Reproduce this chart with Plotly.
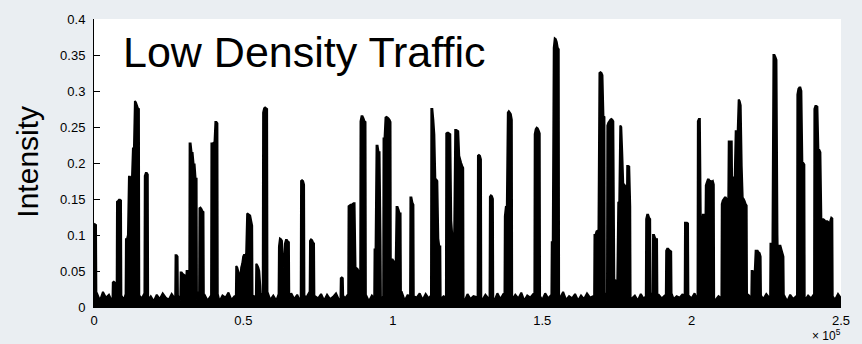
import plotly.graph_objects as go

# ---------------- data ----------------
baseline_step = 1000  # samples between baseline readings
baseline = [
    0.012, 0.019, 0.009, 0.021, 0.013, 0.017, 0.008, 0.020, 0.012, 0.016, 0.010, 0.018, 0.011, 0.022, 0.009, 0.016, 0.012, 0.019, 0.010, 0.015,
    0.008, 0.017, 0.011, 0.019, 0.013, 0.010, 0.018, 0.012, 0.016, 0.009, 0.019, 0.011, 0.016, 0.013, 0.010, 0.020, 0.012, 0.017, 0.009, 0.015,
    0.011, 0.018, 0.008, 0.016, 0.013, 0.020, 0.010, 0.015, 0.012, 0.019, 0.009, 0.017, 0.011, 0.016, 0.014, 0.010, 0.018, 0.012, 0.021, 0.010,
    0.016, 0.009, 0.018, 0.012, 0.015, 0.010, 0.019, 0.011, 0.017, 0.008, 0.016, 0.013, 0.020, 0.010, 0.015, 0.012, 0.018, 0.009, 0.017, 0.011,
    0.014, 0.019, 0.010, 0.016, 0.012, 0.018, 0.009, 0.015, 0.013, 0.020, 0.011, 0.017, 0.008, 0.016, 0.012, 0.019, 0.010, 0.015, 0.013, 0.018,
    0.010, 0.016, 0.012, 0.021, 0.009, 0.017, 0.011, 0.015, 0.013, 0.019, 0.010, 0.018, 0.012, 0.016, 0.009, 0.020, 0.011, 0.015, 0.013, 0.017,
    0.010, 0.019, 0.012, 0.016, 0.008, 0.018, 0.011, 0.015, 0.014, 0.020, 0.010, 0.017, 0.012, 0.016, 0.009, 0.019, 0.011, 0.018, 0.013, 0.015,
    0.010, 0.017, 0.012, 0.020, 0.009, 0.016, 0.013, 0.018, 0.011, 0.015, 0.010, 0.019, 0.012, 0.017, 0.008, 0.016, 0.013, 0.021, 0.010, 0.015,
    0.012, 0.018, 0.009, 0.016, 0.011, 0.019, 0.013, 0.015, 0.010, 0.017, 0.012, 0.020, 0.009, 0.016, 0.011, 0.018, 0.013, 0.015, 0.010, 0.019,
    0.012, 0.016, 0.009, 0.018, 0.011, 0.015, 0.013, 0.020, 0.010, 0.017, 0.012, 0.016, 0.008, 0.019, 0.011, 0.015, 0.013, 0.018, 0.010, 0.016,
    0.012, 0.019, 0.009, 0.017, 0.011, 0.016, 0.013, 0.021, 0.010, 0.015, 0.012, 0.018, 0.009, 0.016, 0.011, 0.019, 0.013, 0.015, 0.010, 0.017,
    0.012, 0.020, 0.009, 0.016, 0.011, 0.018, 0.013, 0.015, 0.010, 0.019, 0.012, 0.016, 0.008, 0.017, 0.011, 0.015, 0.013, 0.020, 0.010, 0.016,
    0.012, 0.018, 0.009, 0.017, 0.011, 0.019, 0.013, 0.015, 0.010, 0.018, 0.012,
]

burst_step = 333  # samples between readings inside a burst
burst_start = [
    0, 6300, 7700, 10700, 17000, 27300, 29000, 32000, 35300, 39300,
    47600, 54300, 56600, 61900, 69300, 72300, 82600, 85200, 89200, 93900,
    96900, 99600, 105900, 112900, 117900, 128500, 132500, 137500, 147500, 153200,
    167500, 171800, 184800, 187100, 191500, 197800, 202100, 210100, 220100, 226400,
    235400, 241100,
]
burst_heights = [
    [0.116, 0.115, 0.114],
    [0.034, 0.035, 0.034, 0.033],
    [0.146, 0.147, 0.149, 0.149, 0.148],
    [0.094, 0.094, 0.100, 0.181, 0.181, 0.178, 0.178, 0.220, 0.220, 0.286, 0.284, 0.280, 0.276, 0.275],
    [0.182, 0.186, 0.186, 0.184],
    [0.072, 0.072, 0.070],
    [0.048, 0.048, 0.046, 0.045, 0.044, 0.020, 0.050, 0.050, 0.050],
    [0.227, 0.227, 0.214, 0.214, 0.198, 0.198, 0.178, 0.178],
    [0.137, 0.138, 0.136, 0.133, 0.132],
    [0.227, 0.227, 0.228, 0.226, 0.257, 0.257, 0.255],
    [0.057, 0.055, 0.050, 0.045, 0.040, 0.055, 0.060, 0.070, 0.073, 0.070, 0.075, 0.130, 0.129, 0.128, 0.127, 0.120, 0.113],
    [0.060, 0.058, 0.055, 0.050, 0.030],
    [0.270, 0.276, 0.277, 0.276, 0.275],
    [0.084, 0.095, 0.094, 0.092, 0.060, 0.055, 0.088, 0.093, 0.093, 0.091, 0.090],
    [0.175, 0.176, 0.175, 0.170],
    [0.092, 0.094, 0.093, 0.090, 0.088],
    [0.040, 0.041, 0.040],
    [0.140, 0.141, 0.142, 0.142, 0.143, 0.144, 0.144, 0.052, 0.054, 0.053, 0.050],
    [0.258, 0.265, 0.265, 0.262, 0.258, 0.257],
    [0.080, 0.080, 0.224, 0.224, 0.215, 0.215, 0.090],
    [0.234, 0.234, 0.263, 0.264, 0.263, 0.262, 0.260, 0.257],
    [0.066, 0.066, 0.064, 0.060, 0.050, 0.139, 0.139, 0.135, 0.130, 0.130],
    [0.152, 0.152, 0.145, 0.142],
    [0.275, 0.275, 0.260, 0.240, 0.177, 0.177, 0.175, 0.095, 0.084, 0.084],
    [0.241, 0.242, 0.242, 0.241, 0.240, 0.120, 0.100, 0.060, 0.110, 0.246, 0.246, 0.245, 0.244, 0.210, 0.205, 0.200, 0.196, 0.193],
    [0.210, 0.211, 0.210, 0.205],
    [0.153, 0.155, 0.154, 0.150],
    [0.126, 0.139, 0.140, 0.270, 0.272, 0.270, 0.268, 0.260],
    [0.240, 0.247, 0.249, 0.248, 0.245, 0.241],
    [0.090, 0.090, 0.360, 0.373, 0.372, 0.368, 0.360, 0.358],
    [0.100, 0.100, 0.105, 0.106, 0.106, 0.325, 0.326, 0.325, 0.322, 0.265, 0.264],
    [0.252, 0.256, 0.258, 0.260, 0.261, 0.260, 0.258, 0.037, 0.037, 0.036, 0.035, 0.145, 0.146, 0.252, 0.250, 0.213, 0.170, 0.170, 0.168, 0.050, 0.196, 0.196, 0.195, 0.140],
    [0.122, 0.128, 0.128, 0.124, 0.122],
    [0.100, 0.100, 0.096, 0.094, 0.094],
    [0.078, 0.081, 0.081, 0.079, 0.078, 0.077],
    [0.117, 0.117, 0.117, 0.116],
    [0.258, 0.261, 0.261, 0.107, 0.107, 0.128, 0.128, 0.030, 0.169, 0.173, 0.177, 0.177, 0.175, 0.175, 0.174, 0.175, 0.170],
    [0.143, 0.148, 0.150, 0.152, 0.152, 0.150, 0.050, 0.230, 0.230, 0.230, 0.230, 0.080, 0.180, 0.180, 0.244, 0.244, 0.244, 0.288, 0.286, 0.280, 0.196, 0.152, 0.150, 0.147, 0.143, 0.141],
    [0.050, 0.050, 0.046, 0.046, 0.078, 0.078, 0.078, 0.076, 0.075, 0.070],
    [0.088, 0.088, 0.088, 0.350, 0.350, 0.347, 0.343, 0.100, 0.020, 0.085, 0.085, 0.080, 0.075, 0.070],
    [0.295, 0.303, 0.305, 0.305, 0.300, 0.200, 0.200, 0.198],
    [0.275, 0.279, 0.279, 0.278, 0.218, 0.218, 0.215, 0.120, 0.122, 0.122, 0.121, 0.119, 0.119, 0.119, 0.118, 0.030, 0.120, 0.124, 0.123],
]

x_tick_vals = [0, 50000, 100000, 150000, 200000, 250000]
x_tick_text = ["0", "0.5", "1", "1.5", "2", "2.5"]
y_tick_vals = [0, 0.05, 0.1, 0.15, 0.2, 0.25, 0.3, 0.35, 0.4]
y_tick_text = ["0", "0.05", "0.1", "0.15", "0.2", "0.25", "0.3", "0.35", "0.4"]

# ---------------- assemble the series ----------------
points = {i * baseline_step: v for i, v in enumerate(baseline)}


def base_at(x):
    i = int(round(x / baseline_step))
    return baseline[max(0, min(len(baseline) - 1, i))]


for s0, hs in zip(burst_start, burst_heights):
    s1 = s0 + (len(hs) - 1) * burst_step
    for key in [k for k in points if s0 - 200 <= k <= s1 + 200]:
        del points[key]
    if s0 > 0:
        points[s0 - 120] = base_at(s0 - 120)
    points[s1 + 120] = base_at(s1 + 120)
    for k, h in enumerate(hs):
        points[s0 + k * burst_step] = h

xs = sorted(points)
ys = [points[x] for x in xs]

# ---------------- figure ----------------
fig = go.Figure(
    go.Scatter(
        x=xs, y=ys, mode="lines",
        line=dict(color="black", width=2, simplify=False),
        fill="tozeroy", fillcolor="black",
        hoverinfo="skip",
    )
)

FONT = "Liberation Sans, Arial, Helvetica, sans-serif"

fig.update_layout(
    width=862, height=344,
    margin=dict(l=94, r=17, t=13, b=37),
    paper_bgcolor="#eaeef2",
    plot_bgcolor="white",
    showlegend=False,
    font=dict(family=FONT, size=13, color="black"),
)
fig.update_xaxes(
    range=[0, 250000], tickvals=x_tick_vals, ticktext=x_tick_text,
    showline=True, linecolor="black", linewidth=1,
    ticks="inside", ticklen=5, tickcolor="black",
    showgrid=False, zeroline=False, ticklabelstandoff=1,
    tickfont=dict(size=13),
)
fig.update_yaxes(
    range=[0, 0.4], tickvals=y_tick_vals, ticktext=y_tick_text,
    showline=True, linecolor="black", linewidth=1,
    ticks="inside", ticklen=6, tickcolor="black",
    showgrid=False, zeroline=False, ticklabelstandoff=5,
    tickfont=dict(size=13),
)

fig.add_annotation(
    text="Low Density Traffic", xref="paper", yref="paper",
    x=0.036, y=0.885, xanchor="left", yanchor="middle",
    showarrow=False, font=dict(family=FONT, size=43, color="black"),
)
fig.add_annotation(
    text="Intensity", xref="paper", yref="paper",
    x=-0.089, y=0.503, xanchor="center", yanchor="middle", textangle=-90,
    showarrow=False, font=dict(family=FONT, size=30, color="black"),
)
fig.add_annotation(
    text="× 10<sup>5</sup>", xref="paper", yref="paper",
    x=1.002, y=-0.13, xanchor="right", yanchor="bottom", borderpad=0,
    showarrow=False, font=dict(family=FONT, size=12, color="black"),
)

fig.write_html(
    "out.html",
    config={"displayModeBar": False},
    post_script="document.body.style.margin='0';",
)
